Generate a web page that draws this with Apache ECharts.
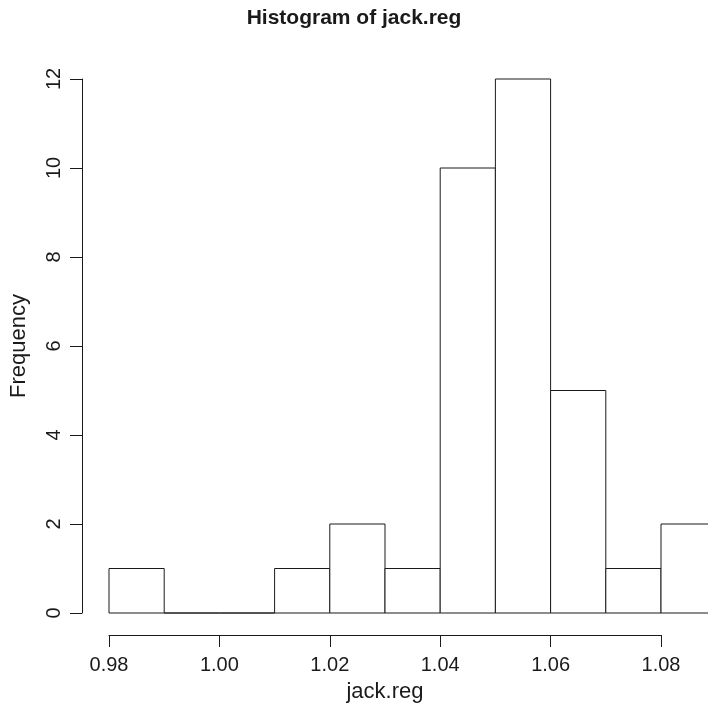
<!DOCTYPE html>
<html><head><meta charset="utf-8">
<script src="https://cdn.jsdelivr.net/npm/echarts@6/dist/echarts.min.js"></script>
<style>html,body{margin:0;padding:0;background:#fff}#c{width:708px;height:708px}</style>
</head><body><div id="c"></div>
<script>
const binStarts = [0.98, 0.99, 1.00, 1.01, 1.02, 1.03, 1.04, 1.05, 1.06, 1.07, 1.08];
const binWidth = 0.01;
const counts = [1, 0, 0, 1, 2, 1, 10, 12, 5, 1, 2];
const xTicks = [0.98, 1.00, 1.02, 1.04, 1.06, 1.08];
const yTicks = [0, 2, 4, 6, 8, 10, 12];

const font = '"Liberation Sans", Arial, Helvetica, sans-serif';
const ink = '#1a1a1a';
const chart = echarts.init(document.getElementById('c'));
const data = binStarts.map((s, i) => [s, s + binWidth, counts[i]]);

chart.setOption({
  animation: false,
  backgroundColor: '#fff',
  title: {
    text: 'Histogram of jack.reg', left: 'center', top: 3,
    textStyle: { fontFamily: font, fontWeight: 'bold', fontSize: 21, color: ink }
  },
  grid: { left: 108, width: 553, top: 79, height: 536 },
  xAxis: {
    type: 'value', min: 0.98, max: 1.08, interval: 0.02, position: 'bottom', offset: 22,
    name: 'jack.reg', nameLocation: 'middle', nameGap: 46,
    nameTextStyle: { fontFamily: font, fontSize: 22, color: ink },
    axisLine: { show: true, onZero: false, lineStyle: { color: ink, width: 1 } },
    axisTick: { show: true, length: 12, lineStyle: { color: ink } },
    axisLabel: { fontFamily: font, fontSize: 20, color: ink, margin: 20,
      formatter: v => v.toFixed(2), customValues: xTicks },
    splitLine: { show: false }
  },
  yAxis: {
    type: 'value', min: 0, max: 12, interval: 2, offset: 27,
    name: 'Frequency', nameLocation: 'middle', nameGap: 52,
    nameTextStyle: { fontFamily: font, fontSize: 22, color: ink },
    axisLine: { show: true, onZero: false, lineStyle: { color: ink, width: 1 } },
    axisTick: { show: true, length: 12, lineStyle: { color: ink } },
    axisLabel: { fontFamily: font, fontSize: 20, color: ink, rotate: 90, margin: 18,
      customValues: yTicks },
    splitLine: { show: false }
  },
  series: [{
    type: 'custom',
    clip: false,
    data: data,
    renderItem: function (params, api) {
      const p0 = api.coord([api.value(0), 0]);
      const p1 = api.coord([api.value(1), api.value(2)]);
      return {
        type: 'rect',
        shape: { x: p0[0], y: p1[1], width: p1[0] - p0[0], height: p0[1] - p1[1] },
        style: { fill: '#fff', stroke: ink, lineWidth: 1 }
      };
    }
  }]
});
</script></body></html>
